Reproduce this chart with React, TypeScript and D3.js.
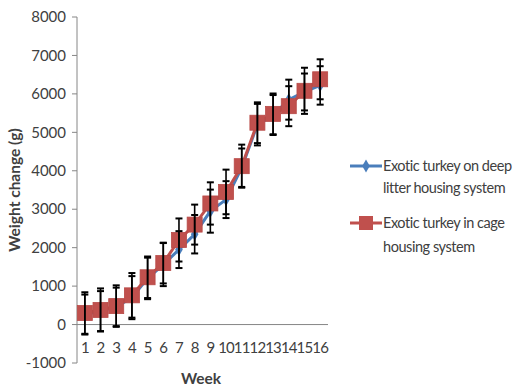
import React from "react";
import * as d3 from "d3";

const weeks = ["1", "2", "3", "4", "5", "6", "7", "8", "9", "10", "11", "12", "13", "14", "15", "16"];
const deepLitterMean = [260, 350, 460, 700, 1200, 1560, 1950, 2350, 2950, 3250, 4080, 5200, 5450, 5850, 6050, 6220];
const deepLitterSd = [520, 520, 500, 560, 540, 560, 480, 500, 560, 480, 500, 540, 520, 520, 480, 500];
const cageMean = [300, 380, 480, 760, 1230, 1600, 2200, 2600, 3150, 3450, 4120, 5250, 5480, 5680, 6080, 6380];
const cageSd = [540, 560, 540, 580, 540, 530, 560, 520, 550, 580, 560, 530, 530, 520, 600, 520];
const yTicks = [-1000, 0, 1000, 2000, 3000, 4000, 5000, 6000, 7000, 8000];
const seriesNames = [
  ["Exotic turkey on deep", "litter housing system"],
  ["Exotic turkey in cage", "housing system"],
];

const W = 515;
const H = 388;
const left = 77;
const right = 328;
const top = 17;
const bottom = 363;

const BLUE = "#4a7ebb";
const RED = "#c0504d";
const AXIS = "#868686";
const TEXT = "#404040";
const FONT = "Lato, 'Open Sans', sans-serif";

export default function App() {
  const x = d3.scaleBand<string>().domain(weeks).range([left, right]);
  const y = d3.scaleLinear().domain([-1000, 8000]).range([bottom, top]);
  const cx = (w: string) => (x(w) ?? 0) + x.bandwidth() / 2;

  const line = d3
    .line<number>()
    .x((_, i) => cx(weeks[i]))
    .y((v) => y(v));

  const errorBars = (mean: number[], sd: number[], key: string) =>
    mean.map((m, i) => {
      const px = cx(weeks[i]);
      const y1 = y(m + sd[i]);
      const y2 = y(m - sd[i]);
      return (
        <g key={`${key}-${i}`} stroke="#000" strokeWidth={1.6}>
          <line x1={px} x2={px} y1={y1} y2={y2} />
          <line x1={px - 3.5} x2={px + 3.5} y1={y1} y2={y1} strokeWidth={2} />
          <line x1={px - 3.5} x2={px + 3.5} y1={y2} y2={y2} strokeWidth={2} />
        </g>
      );
    });

  const diamond = d3.symbol().type(d3.symbolDiamond).size(50)();

  return (
    <svg
      width={W}
      height={H}
      style={{ position: "absolute", left: 0, top: 0, background: "#fff" }}
      fontFamily={FONT}
    >
      {/* y axis */}
      <line x1={left} x2={left} y1={top} y2={bottom} stroke={AXIS} strokeWidth={1} />
      {yTicks.map((t) => (
        <g key={t}>
          <line x1={left - 5} x2={left} y1={y(t)} y2={y(t)} stroke={AXIS} />
          <text
            x={left - 11}
            y={y(t)}
            dy="0.35em"
            textAnchor="end"
            fontSize={15}
            fill={TEXT}
          >
            {t}
          </text>
        </g>
      ))}
      {/* category axis crossing at zero */}
      <line x1={left} x2={right} y1={y(0)} y2={y(0)} stroke={AXIS} strokeWidth={1} />
      {weeks.map((w) => (
        <text
          key={w}
          x={cx(w)}
          y={y(0) + 23}
          dy="0.35em"
          textAnchor="middle"
          fontSize={15}
          fill={TEXT}
          letterSpacing={-0.8}
        >
          {w}
        </text>
      ))}

      {/* axis titles */}
      <text
        x={201}
        y={379}
        dy="0.35em"
        textAnchor="middle"
        fontSize={15.5}
        fontWeight="bold"
        fill={TEXT}
      >
        Week
      </text>
      <text
        transform={`translate(15,${(top + bottom) / 2}) rotate(-90)`}
        dy="0.35em"
        textAnchor="middle"
        fontSize={15.5}
        fontWeight="bold"
        fill={TEXT}
      >
        Weight change (g)
      </text>

      {/* deep litter series */}
      <path d={line(deepLitterMean) ?? ""} fill="none" stroke={BLUE} strokeWidth={3} />
      {deepLitterMean.map((v, i) => (
        <path key={`d${i}`} d={diamond ?? ""} transform={`translate(${cx(weeks[i])},${y(v)})`} fill={BLUE} />
      ))}

      {/* cage series */}
      <path d={line(cageMean) ?? ""} fill="none" stroke={RED} strokeWidth={3} />
      {cageMean.map((v, i) => (
        <rect
          key={`c${i}`}
          x={cx(weeks[i]) - 7.5}
          y={y(v) - 7.5}
          width={15}
          height={15}
          fill={RED}
          stroke="#b84a47"
          strokeWidth={0.8}
        />
      ))}

      {errorBars(deepLitterMean, deepLitterSd, "eb")}
      {errorBars(cageMean, cageSd, "ec")}

      {/* legend */}
      <g fontSize={14.5} fill={TEXT} letterSpacing={-0.45}>
        <line x1={350} x2={382} y1={166} y2={166} stroke={BLUE} strokeWidth={3} />
        <path d={diamond ?? ""} transform="translate(366,166)" fill={BLUE} />
        <text x={383} y={166} dy="0.35em">
          {seriesNames[0][0]}
        </text>
        <text x={383} y={188} dy="0.35em">
          {seriesNames[0][1]}
        </text>
        <line x1={350} x2={382} y1={223} y2={223} stroke={RED} strokeWidth={3} />
        <rect x={359} y={216} width={14} height={14} fill={RED} />
        <text x={383} y={223} dy="0.35em">
          {seriesNames[1][0]}
        </text>
        <text x={383} y={247} dy="0.35em">
          {seriesNames[1][1]}
        </text>
      </g>
    </svg>
  );
}
